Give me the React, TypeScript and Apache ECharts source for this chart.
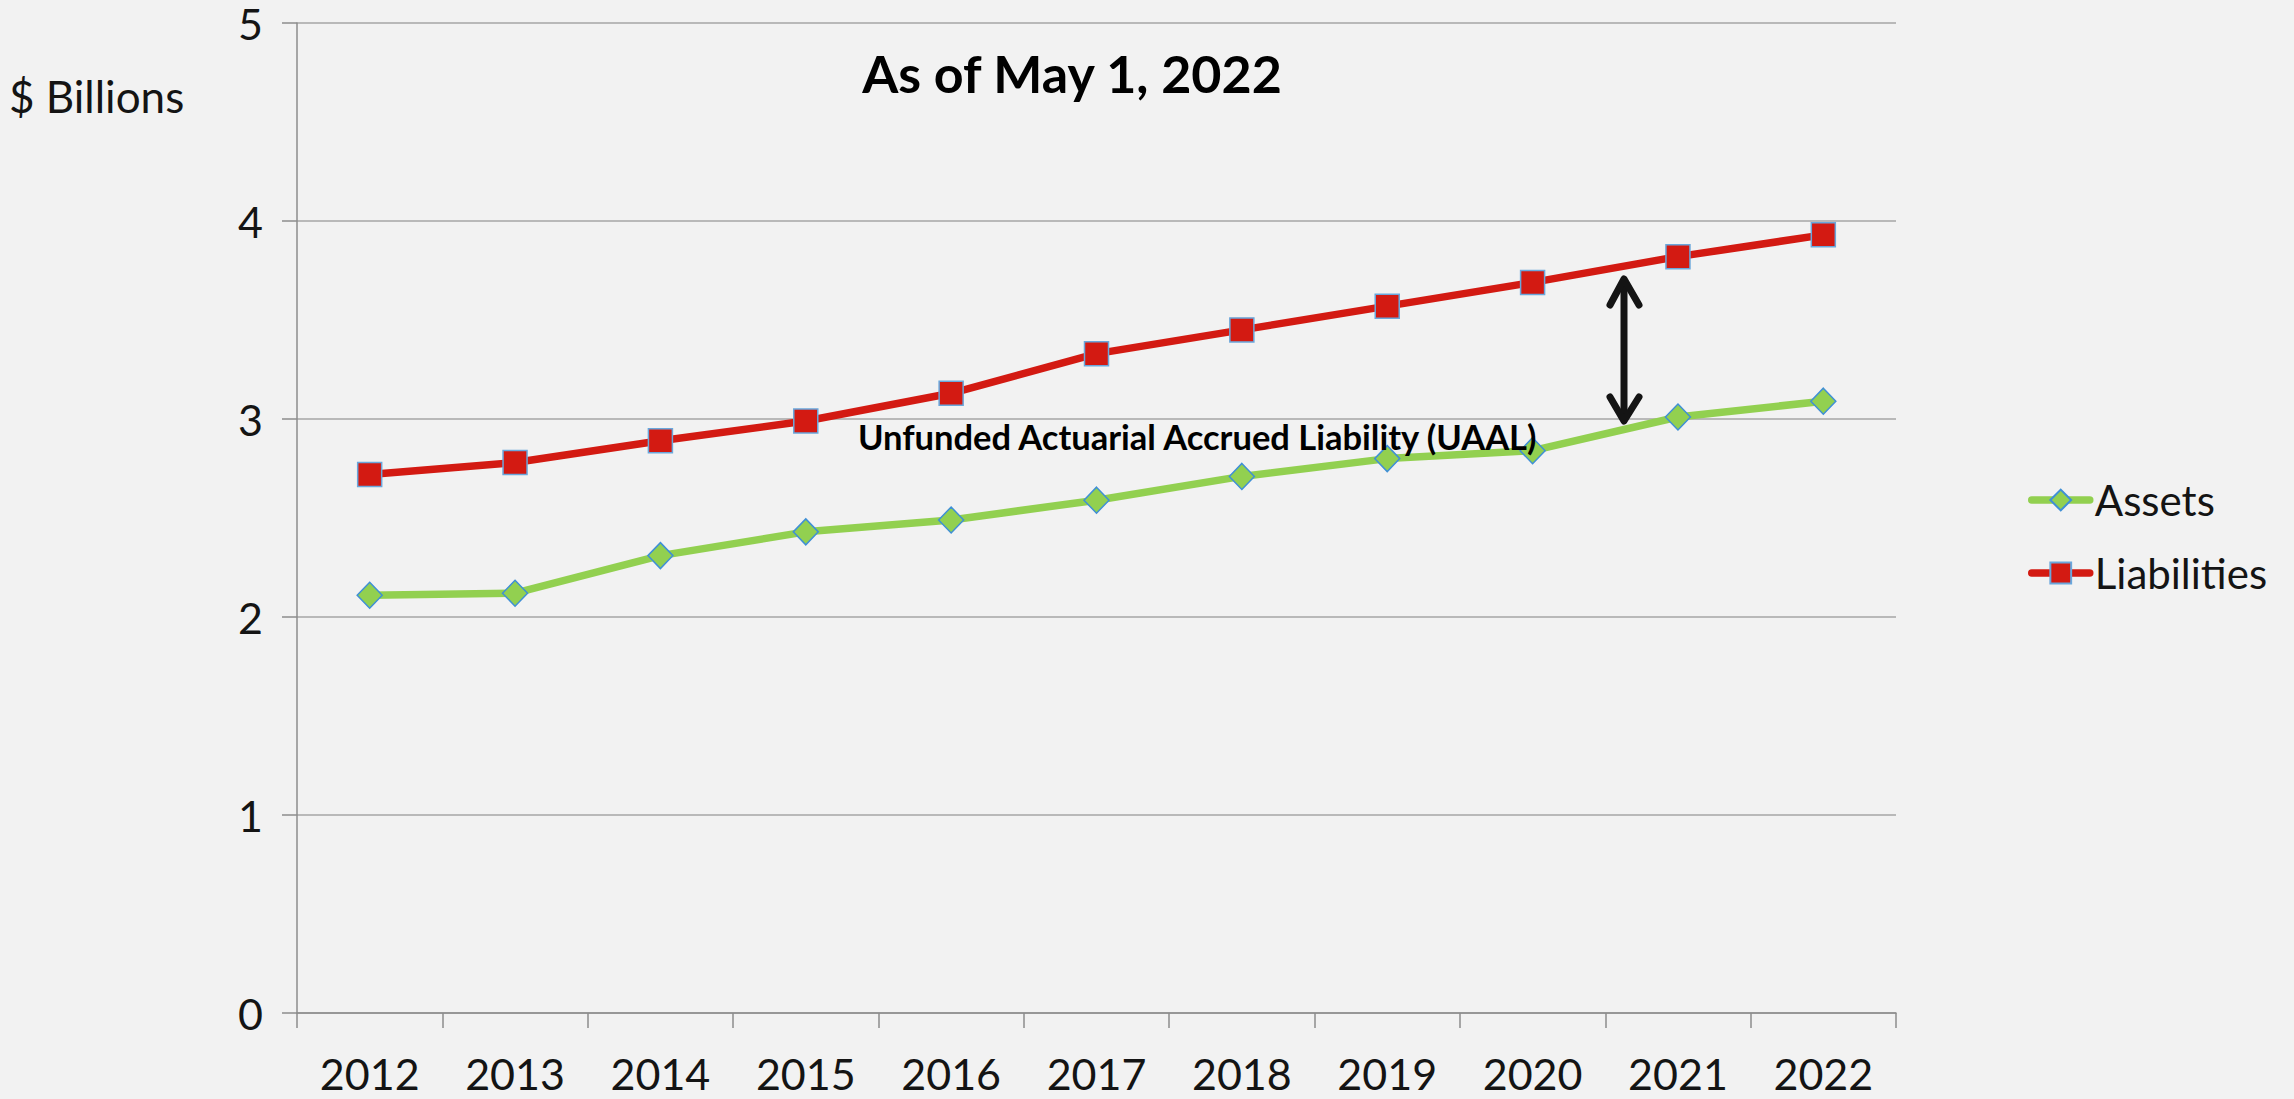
import React, { useEffect, useRef } from "react";
import * as echarts from "echarts";

const categories = ["2012", "2013", "2014", "2015", "2016", "2017", "2018", "2019", "2020", "2021", "2022"];
const assets = [2.11, 2.12, 2.31, 2.43, 2.49, 2.59, 2.71, 2.80, 2.84, 3.01, 3.09];
const liabilities = [2.72, 2.78, 2.89, 2.99, 3.13, 3.33, 3.45, 3.57, 3.69, 3.82, 3.93];
const seriesNames = ["Assets", "Liabilities"];
const titleText = "As of May 1, 2022";
const unitText = "$ Billions";
const noteText = "Unfunded Actuarial Accrued Liability (UAAL)";

const FONT = "Lato, 'Open Sans', sans-serif";
const GREEN = "#92d050";
const RED = "#d31a12";
const BORDER = "#3f8fd6";
const GRID = "#a6a6a6";
const TEXT = "#141414";

export default function App() {
  const ref = useRef<HTMLDivElement>(null);
  useEffect(() => {
    if (!ref.current) return;
    const chart = echarts.init(ref.current, undefined, { renderer: "svg" });
    chart.setOption({
      animation: false,
      backgroundColor: "#f2f2f2",
      textStyle: { fontFamily: FONT },
      grid: { left: 297, right: 398, top: 23, bottom: 86, containLabel: false },
      legend: {
        orient: "vertical",
        left: 2023,
        top: 474,
        itemWidth: 58,
        itemHeight: 26,
        itemGap: 31,
        data: [
          { name: seriesNames[0], lineStyle: { width: 7.5, color: GREEN, cap: "round" } },
          { name: seriesNames[1], lineStyle: { width: 7.5, color: RED, cap: "round" } },
        ],
        textStyle: { fontFamily: FONT, fontSize: 42, color: TEXT },
      },
      xAxis: {
        type: "category",
        data: categories,
        boundaryGap: true,
        axisLine: { show: true, lineStyle: { color: "#8c8c8c", width: 1.5 } },
        axisTick: { show: true, length: 15, alignWithLabel: false, lineStyle: { color: "#8c8c8c", width: 1.5 } },
        axisLabel: { fontFamily: FONT, fontSize: 43, color: TEXT, margin: 39 },
        splitLine: { show: false },
      },
      yAxis: {
        type: "value",
        min: 0,
        max: 5,
        interval: 1,
        axisLine: { show: true, lineStyle: { color: "#8c8c8c", width: 1.5 } },
        axisTick: { show: true, length: 15, lineStyle: { color: "#8c8c8c", width: 1.5 } },
        axisLabel: { fontFamily: FONT, fontSize: 43, color: TEXT, margin: 34 },
        splitLine: { show: true, lineStyle: { color: GRID, width: 1.5 } },
      },
      series: [
        {
          name: seriesNames[0],
          type: "line",
          data: assets,
          symbol: "diamond",
          symbolSize: [25, 26],
          lineStyle: { color: GREEN, width: 7.5 },
          itemStyle: { color: GREEN, borderColor: BORDER, borderWidth: 1.5 },
          z: 2,
        },
        {
          name: seriesNames[1],
          type: "line",
          data: liabilities,
          symbol: "rect",
          symbolSize: 24,
          lineStyle: { color: RED, width: 7.5 },
          itemStyle: { color: RED, borderColor: "#6aa7dc", borderWidth: 1.5 },
          z: 3,
        },
      ],
      graphic: [
        {
          type: "text",
          x: 1072,
          y: 73,
          style: {
            text: titleText,
            fontFamily: FONT,
            fontSize: 52,
            fontWeight: "bold",
            fill: "#000",
            textAlign: "center",
            textVerticalAlign: "middle",
          },
        },
        {
          type: "text",
          x: 9,
          y: 96,
          style: {
            text: unitText,
            fontFamily: FONT,
            fontSize: 44,
            fill: TEXT,
            textAlign: "left",
            textVerticalAlign: "middle",
          },
        },
        {
          type: "text",
          x: 858,
          y: 436,
          z: 10,
          style: {
            text: noteText,
            fontFamily: FONT,
            fontSize: 34.5,
            fontWeight: "bold",
            fill: "#000",
            textAlign: "left",
            textVerticalAlign: "middle",
          },
        },
        {
          type: "line",
          z: 10,
          shape: { x1: 1624, y1: 281, x2: 1624, y2: 419 },
          style: { stroke: "#141414", lineWidth: 7, lineCap: "round" },
        },
        {
          type: "polyline",
          z: 10,
          shape: { points: [[1610, 305], [1624, 279], [1639, 305]] },
          style: { stroke: "#141414", fill: null, lineWidth: 7, lineCap: "round", lineJoin: "round" },
        },
        {
          type: "polyline",
          z: 10,
          shape: { points: [[1610, 397], [1624, 421], [1639, 397]] },
          style: { stroke: "#141414", fill: null, lineWidth: 7, lineCap: "round", lineJoin: "round" },
        },
      ],
    });
    return () => chart.dispose();
  }, []);
  return (
    <div
      ref={ref}
      style={{ position: "absolute", left: 0, top: 0, width: 2294, height: 1099 }}
    />
  );
}
